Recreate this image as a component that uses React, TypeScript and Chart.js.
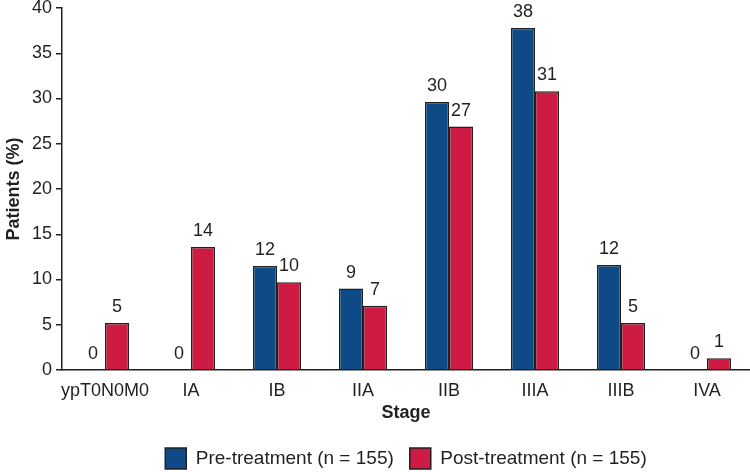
import React, { useEffect, useRef } from "react";
import { Chart, registerables } from "chart.js";

Chart.register(...registerables);

const categories = ["ypT0N0M0", "IA", "IB", "IIA", "IIB", "IIIA", "IIIB", "IVA"];
const preValues = [0, 0, 11.5, 9.0, 29.6, 37.8, 11.6, 0];
const postValues = [5.2, 13.6, 9.7, 7.1, 26.9, 30.8, 5.2, 1.3];
const preLabels = ["0", "0", "12", "9", "30", "38", "12", "0"];
const postLabels = ["5", "14", "10", "7", "27", "31", "5", "1"];
const seriesNames = ["Pre-treatment (n = 155)", "Post-treatment (n = 155)"];

const FONT = "'Liberation Sans', Arial, Helvetica, sans-serif";
const FS = 18;

const labelPlugin = {
  id: "barLabels",
  afterDatasetsDraw(chart: any) {
    const ctx = chart.ctx;
    const all = [preLabels, postLabels];
    ctx.save();
    ctx.font = `${FS}px ${FONT}`;
    ctx.fillStyle = "#231f20";
    ctx.textAlign = "center";
    ctx.textBaseline = "bottom";
    chart.data.datasets.forEach((_: any, di: number) => {
      const meta = chart.getDatasetMeta(di);
      meta.data.forEach((bar: any, i: number) => {
        ctx.fillText(all[di][i], bar.x, bar.y - 7);
      });
    });
    ctx.restore();
  },
};

export default function App() {
  const ref = useRef<HTMLCanvasElement>(null);
  useEffect(() => {
    document.body.style.margin = "0";
    const chart = new Chart(ref.current!, {
      type: "bar",
      data: {
        labels: categories,
        datasets: [
          {
            label: seriesNames[0],
            data: preValues,
            backgroundColor: "#0d4a86",
            borderColor: "#231f20",
            borderWidth: 1.5,
            borderSkipped: "bottom",
          },
          {
            label: seriesNames[1],
            data: postValues,
            backgroundColor: "#cf1a43",
            borderColor: "#231f20",
            borderWidth: 1.5,
            borderSkipped: "bottom",
          },
        ],
      },
      options: {
        animation: false,
        responsive: false,
        maintainAspectRatio: false,
        layout: { padding: { top: 0, right: 0, left: 0, bottom: -7 } },
        datasets: { bar: { categoryPercentage: 0.56, barPercentage: 1 } },
        scales: {
          x: {
            afterFit(scale: any) {
              scale.height = 62;
            },
            grid: { display: false, drawTicks: false },
            border: { display: true, color: "#231f20", width: 1.5 },
            ticks: { color: "#231f20", font: { size: FS, family: FONT }, padding: 10, maxRotation: 0, autoSkip: false },
            title: { display: true, text: "Stage", color: "#231f20", font: { size: FS, weight: "bold", family: FONT }, padding: { top: 0, bottom: 8 } },
          },
          y: {
            min: 0,
            max: 40,
            afterFit(scale: any) {
              scale.width = 62;
              scale.paddingTop = 8;
            },
            grid: { display: true, drawOnChartArea: false, drawTicks: true, tickLength: 6, color: "#231f20", lineWidth: 1.5 },
            border: { display: true, color: "#231f20", width: 1.5 },
            ticks: { stepSize: 5, color: "#231f20", font: { size: FS, family: FONT }, padding: 4 },
            title: { display: true, text: "Patients (%)", color: "#231f20", font: { size: FS, weight: "bold", family: FONT }, padding: { top: 3, bottom: 0 } },
          },
        },
        plugins: {
          legend: {
            position: "bottom",
            fullSize: false,
            labels: {
              color: "#231f20",
              font: { size: 19, family: FONT },
              boxWidth: 21,
              boxHeight: 21,
              padding: 16,
            },
          },
          tooltip: { enabled: false },
        },
      },
      plugins: [labelPlugin],
    } as any);
    return () => chart.destroy();
  }, []);
  return <canvas ref={ref} width={750} height={472} style={{ display: "block" }} />;
}
